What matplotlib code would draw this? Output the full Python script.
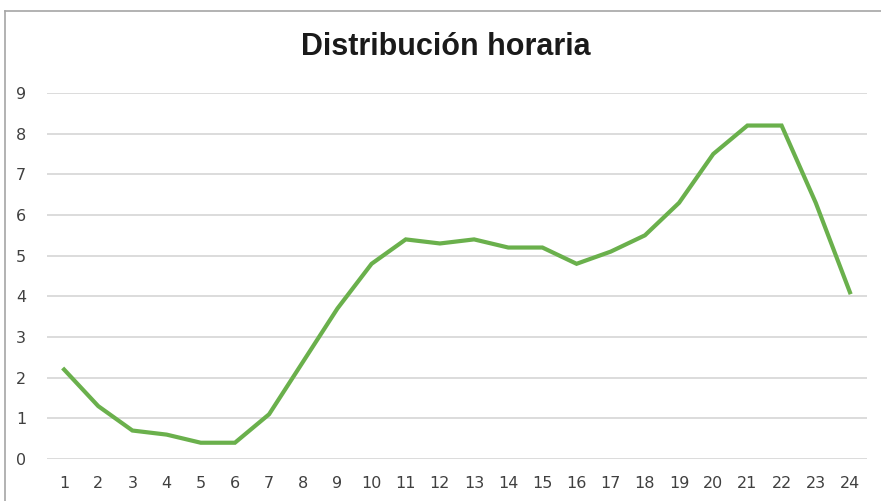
import matplotlib.pyplot as plt
from matplotlib.lines import Line2D

plt.rcParams['font.family'] = ['DejaVu Sans']

# ---- data ----
horas = list(range(1, 25))
valores = [2.2, 1.3, 0.7, 0.6, 0.4, 0.4, 1.1, 2.4, 3.7, 4.8, 5.4, 5.3,
           5.4, 5.2, 5.2, 4.8, 5.1, 5.5, 6.3, 7.5, 8.2, 8.2, 6.3, 4.1]
titulo = 'Distribución horaria'

fig = plt.figure(figsize=(8.81, 5.01), dpi=100)
ax = fig.add_axes([47/881, 1 - 459/501, 820/881, 366/501])

ax.plot(horas, valores, color='#6ab04c', linewidth=3, solid_joinstyle='miter')

ax.set_xlim(0.5, 24.5)
ax.set_ylim(0, 9)
ax.set_xticks(horas)
ax.set_yticks(range(0, 10))
ax.grid(axis='y', color='#d9d9d9', linewidth=1.3)
ax.set_axisbelow(True)
for s in ax.spines.values():
    s.set_visible(False)
ax.tick_params(length=0, labelsize=11.5, colors='#404040')
ax.tick_params(axis='y', pad=15)
ax.tick_params(axis='x', pad=12)

fig.text(446/881, 1 - 47/501, titulo, ha='center', va='center',
         fontsize=22, fontweight='bold', color='#1a1a1a',
         family=['Liberation Sans', 'DejaVu Sans'])

# borde del gráfico (solo arriba e izquierda visibles)
fig.add_artist(Line2D([5/881, 5/881], [0, 1 - 11/501], transform=fig.transFigure,
                      color='#a6a6a6', linewidth=1.2))
fig.add_artist(Line2D([5/881, 1], [1 - 11/501, 1 - 11/501], transform=fig.transFigure,
                      color='#a6a6a6', linewidth=1.2))

fig.savefig('out.png', dpi=100)
